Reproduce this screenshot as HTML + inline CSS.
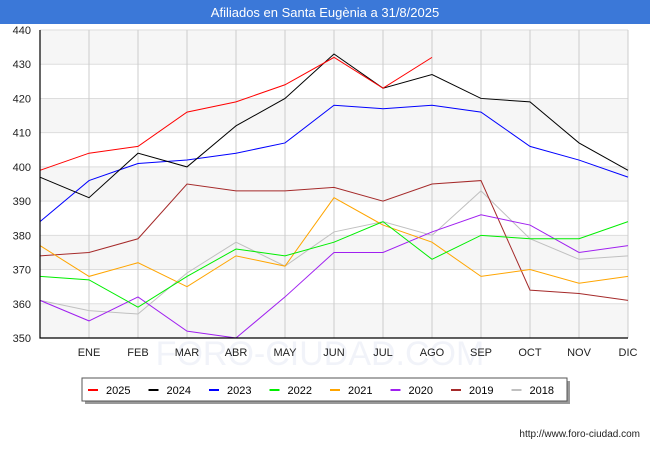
<!DOCTYPE html>
<html><head><meta charset="utf-8"><style>
body{margin:0;background:#fff;font-family:"Liberation Sans",sans-serif}
svg text{font-family:"Liberation Sans",sans-serif}
</style></head><body>
<svg id="c" width="650" height="450" xmlns="http://www.w3.org/2000/svg">
<rect x="0" y="0" width="650" height="450" fill="#fff"/>
<rect x="0" y="0" width="650" height="24" fill="#3b78d8"/>
<text x="325" y="17" text-anchor="middle" fill="#fff" font-size="13">Afiliados en Santa Eugènia a 31/8/2025</text>
<g id="bands"></g><g id="grid"></g>
<text x="320" y="365" text-anchor="middle" font-size="34" fill="#f1f3f9">FORO-CIUDAD.COM</text>
<g id="series"></g><g id="axes"></g>
<rect x="85" y="381" width="485" height="23" fill="#999"/>
<rect x="82" y="378" width="485" height="23" fill="#fff" stroke="#555"/>
<g id="legend"></g>
<text x="640" y="437" text-anchor="end" font-size="10" fill="#222">http://www.foro-ciudad.com</text>
</svg>
<script>
const months=["","ENE","FEB","MAR","ABR","MAY","JUN","JUL","AGO","SEP","OCT","NOV","DIC"];
const yTicks=[350,360,370,380,390,400,410,420,430,440];
const seriesNames=["2025","2024","2023","2022","2021","2020","2019","2018"];
const seriesColors=["#ff0000","#000000","#0000ff","#00ee00","#ffa500","#a020f0","#a52a2a","#c0c0c0"];
const s2025=[399,404,406,416,419,424,432,423,432];
const s2024=[397,391,404,400,412,420,433,423,427,420,419,407,399];
const s2023=[384,396,401,402,404,407,418,417,418,416,406,402,397];
const s2022=[368,367,359,368,376,374,378,384,373,380,379,379,384];
const s2021=[377,368,372,365,374,371,391,383,378,368,370,366,368];
const s2020=[361,355,362,352,350,362,375,375,381,386,383,375,377];
const s2019=[374,375,379,395,393,393,394,390,395,396,364,363,361];
const s2018=[361,358,357,369,378,371,381,384,380,393,379,373,374];
const allSeries=[s2025,s2024,s2023,s2022,s2021,s2020,s2019,s2018];
const X0=40,X1=628,Y0=338,Y1=30,ymin=350,ymax=440;
const xs=i=>X0+i*(X1-X0)/12;
const ys=v=>Y0-(v-ymin)*(Y0-Y1)/(ymax-ymin);
const NS="http://www.w3.org/2000/svg";
function mk(t,a,p){const e=document.createElementNS(NS,t);for(const k in a)e.setAttribute(k,a[k]);p.appendChild(e);return e;}
const bands=document.getElementById('bands'),grid=document.getElementById('grid'),ser=document.getElementById('series'),axes=document.getElementById('axes'),leg=document.getElementById('legend');
for(let i=0;i<yTicks.length-1;i++){if(i%2==0){const r=mk('rect',{x:X0,y:ys(yTicks[i+1]),width:X1-X0,height:ys(yTicks[i])-ys(yTicks[i+1]),fill:'#f6f6f6'},bands);

}}
yTicks.forEach(v=>{const l=mk('line',{x1:X0,x2:X1,y1:ys(v),y2:ys(v),stroke:'#ddd'},grid);


const t=mk('text',{x:X0-9,y:ys(v)+4,'text-anchor':'end','font-size':11,fill:'#222'},axes);t.textContent=v;

});
months.forEach((m,i)=>{if(i==0)return;const l=mk('line',{x1:xs(i),x2:xs(i),y1:Y1,y2:Y0,stroke:'#ccc'},grid);


const t=mk('text',{x:xs(i),y:Y0+18,'text-anchor':'middle','font-size':11,fill:'#222'},axes);t.textContent=m;

});
const ax=mk('path',{d:`M${X0} ${Y1}V${Y0}H${X1}`,stroke:'#000','stroke-width':1.2,fill:'none'},axes);


for(let k=allSeries.length-1;k>=0;k--){const d=allSeries[k].map((v,i)=>(i?'L':'M')+xs(i)+' '+ys(v)).join('');
const p=mk('path',{d:d,stroke:seriesColors[k],fill:'none','stroke-width':1},ser);

}
seriesNames.forEach((n,k)=>{const x=88+k*60.5;
const l=mk('line',{x1:x,x2:x+10,y1:390,y2:390,stroke:seriesColors[k],'stroke-width':2},leg);


const t=mk('text',{x:x+18,y:394,'font-size':11,fill:'#000'},leg);t.textContent=n;

});
</script>
</body></html>
